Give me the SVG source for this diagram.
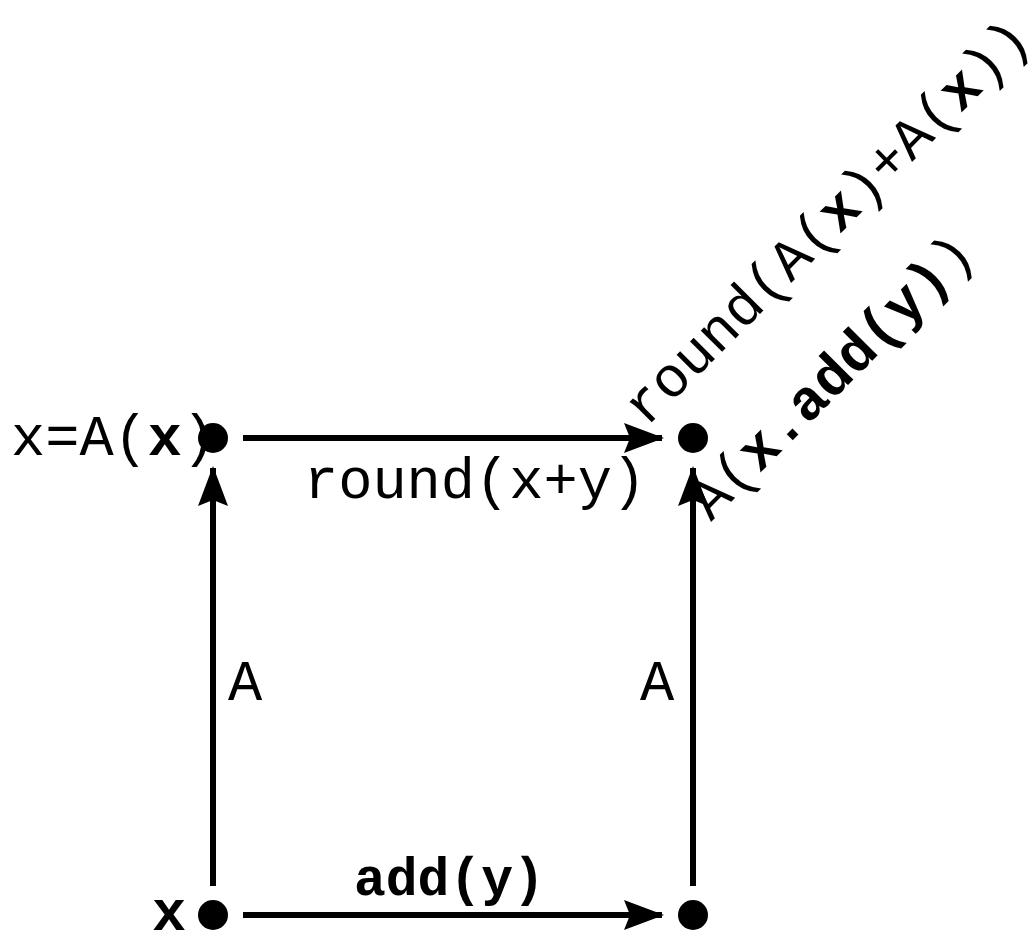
<svg xmlns="http://www.w3.org/2000/svg" width="1036" height="934" viewBox="0 0 1036 934">
<style>
text{font-family:"Liberation Mono","Courier New",monospace;font-size:57px;fill:#000}
.b{font-weight:bold}
.e{stroke:#000;stroke-width:6;fill:none}
</style>
<defs>
<marker id="ah" markerUnits="userSpaceOnUse" markerWidth="40" markerHeight="32" viewBox="0 0 40 32" refX="38" refY="16" orient="auto">
<path d="M0,1 L40,16 L0,31 L6,16 Z" fill="#000"/>
</marker>
</defs>
<rect width="1036" height="934" fill="#fff"/>
<g id="edges">
<line class="e" x1="243" y1="438" x2="662" y2="438" marker-end="url(#ah)"/>
<line class="e" x1="243" y1="915" x2="662" y2="915" marker-end="url(#ah)"/>
<line class="e" x1="213" y1="886" x2="213" y2="468" marker-end="url(#ah)"/>
<line class="e" x1="693" y1="886" x2="693" y2="468" marker-end="url(#ah)"/>
<text x="304" y="498">round(x+y)</text>
<text class="b" x="354" y="895" style="font-size:53px">add(y)</text>
<text x="228" y="700">A</text>
<text x="640" y="700">A</text>
</g>
<g id="n1"><circle cx="213" cy="438" r="15"/><text x="11" y="455">x=A(<tspan class="b">x</tspan>)</text></g>
<g id="n2"><circle cx="693" cy="438" r="15"/>
<text transform="translate(646,428) rotate(-45)">round(A(<tspan class="b">x</tspan>)+A(<tspan class="b">x</tspan>))</text>
<text transform="translate(711,522) rotate(-45)">A(<tspan class="b">x.add(y)</tspan>)</text>
</g>
<g id="n3"><circle cx="213" cy="915" r="15"/><text class="b" x="152" y="930">x</text></g>
<g id="n4"><circle cx="693" cy="915" r="15"/></g>
</svg>
